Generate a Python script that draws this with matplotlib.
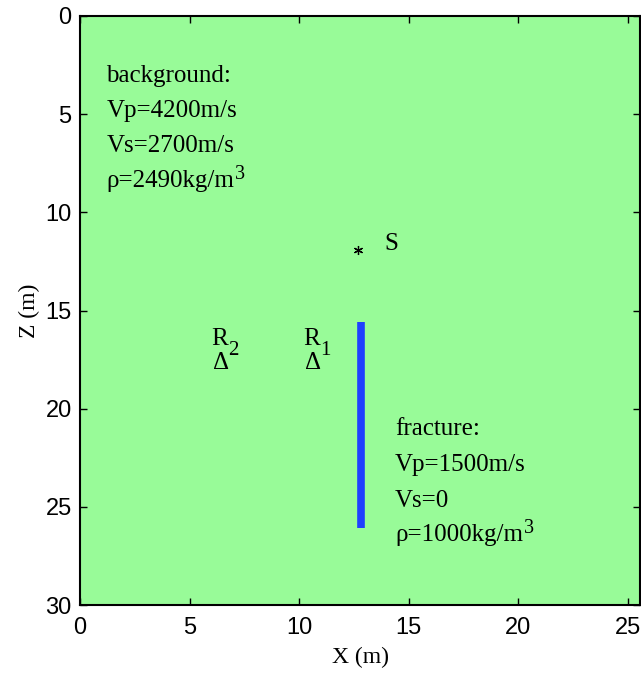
import numpy as np
import matplotlib
matplotlib.use("Agg")
import matplotlib.pyplot as plt

# model geometry (m)
x_max, z_max = 25.55, 30
frac_x = 12.8
frac_z = [15.6, 26.1]
src_x, src_z = 12.7, 11.9
rec_ids = ['2', '1']
rec_x = [6.0, 10.2]
rec_z = [16.75, 18.0]
rec_id_x = [6.75, 10.97]
rec_id_z = 17.27

bg_lines = ['background:', 'Vp=4200m/s', 'Vs=2700m/s', 'ρ=2490kg/m']
bg_z = [3.35, 5.15, 6.95, 8.7]
fr_lines = ['fracture:', 'Vp=1500m/s', 'Vs=0', 'ρ=1000kg/m']
fr_z = [21.35, 23.2, 25.0, 26.75]

serif = 'Liberation Serif'
fs = 18
fs_small = 14.5

fig = plt.figure(figsize=(6.41, 6.73), dpi=100)
ax = fig.add_axes([80/641, 68/673, 560/641, 589/673])
ax.set_facecolor('palegreen')
ax.set_xlim(0, x_max)
ax.set_ylim(z_max, 0)
renderer = fig.canvas.get_renderer()


def put(x, z, s, sup=None, dy=5.8, dx=0.5):
    # main text, then an optional raised index right after it
    t = ax.text(x, z, s, family=serif, fontsize=fs, va='baseline', ha='left')
    if sup is None:
        return
    bb = t.get_window_extent(renderer)
    x_end = ax.transData.inverted().transform((bb.x1, 0))[0]
    ax.annotate(sup, (x_end, z), xytext=(dx, dy), textcoords='offset points',
                family=serif, fontsize=fs_small, va='baseline', ha='left')


# fracture
ax.plot([frac_x, frac_x], frac_z, color='#1f3fff', lw=5.5, solid_capstyle='butt')

# source
ax.plot(src_x, src_z, marker=(6, 2, 0), ms=6.5, mec='black', mew=0.9, color='black')
put(13.87, 11.92, 'S')

# receivers: R above the triangle, shared index between them
for rid, x, xi in zip(rec_ids, rec_x, rec_id_x):
    put(x, rec_z[0], 'R')
    put(x + 0.05, rec_z[1], 'Δ')
    ax.text(xi, rec_id_z, rid, family=serif, fontsize=15, va='baseline', ha='left')

for i, (s, z) in enumerate(zip(bg_lines, bg_z)):
    put(1.2, z, s, '3' if i == 3 else None)
for i, (s, z) in enumerate(zip(fr_lines, fr_z)):
    put(14.37, z, s, '3' if i == 3 else None)

ax.set_xticks(np.arange(0, 30, 5))
ax.set_yticks(np.arange(0, 35, 5))
ax.tick_params(direction='in', length=5, width=1, top=True, right=True,
               labelsize=17, pad=6)
ax.tick_params(axis='x', pad=9)
for lab in ax.get_xticklabels() + ax.get_yticklabels():
    lab.set_family('Liberation Sans')
for sp in ax.spines.values():
    sp.set_linewidth(1.5)

ax.set_xlabel('X (m)', family=serif, fontsize=17, labelpad=5)
ax.set_ylabel('Z (m)', family=serif, fontsize=17, labelpad=4)

fig.savefig('out.png', dpi=100)
